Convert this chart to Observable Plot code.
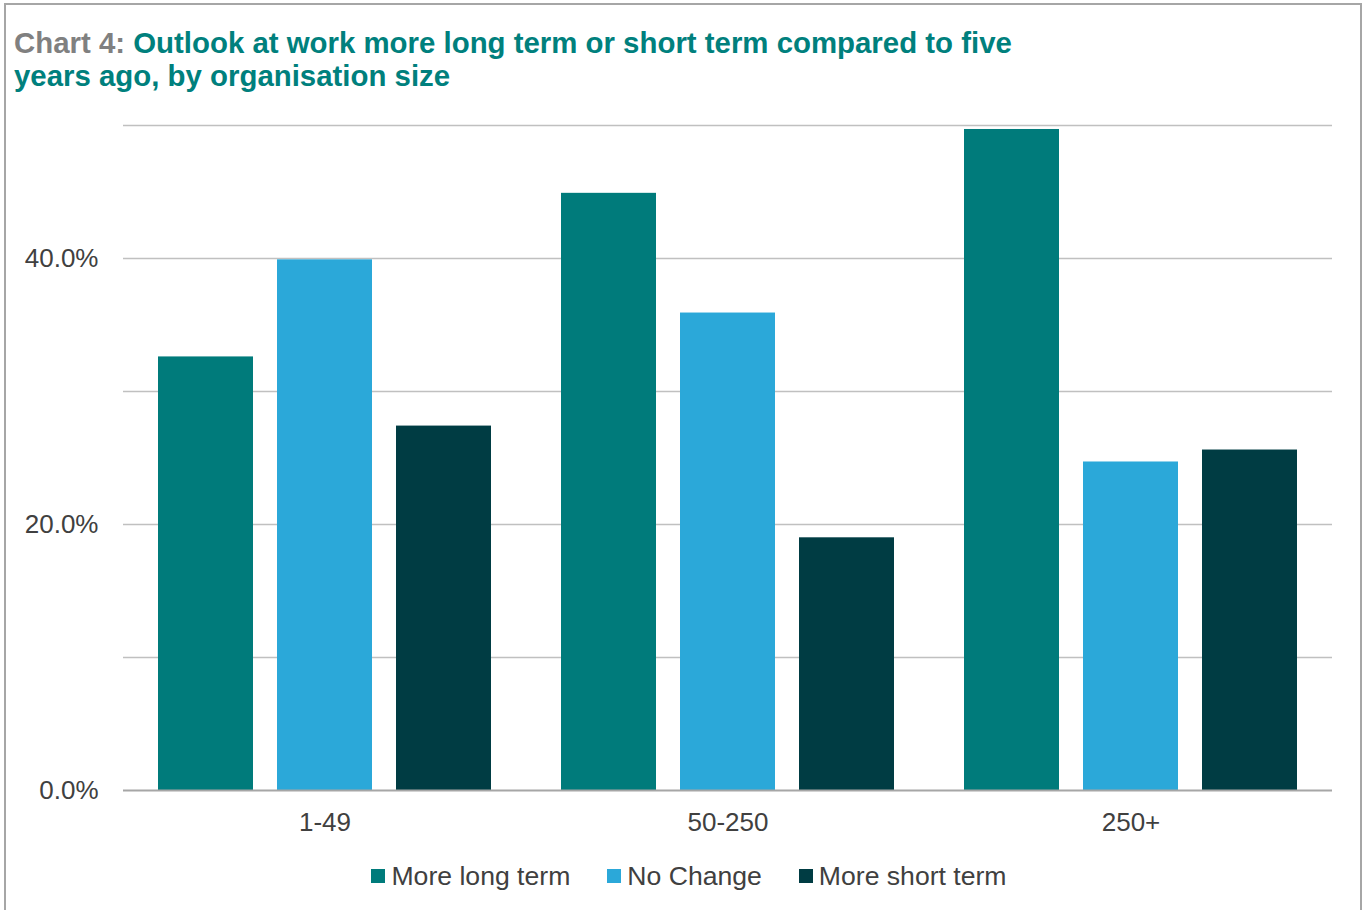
<!DOCTYPE html>
<html>
<head>
<meta charset="utf-8">
<script src="https://cdn.jsdelivr.net/npm/d3@7"></script>
<script src="https://cdn.jsdelivr.net/npm/@observablehq/plot@0.6"></script>
<style>
  html, body { margin: 0; padding: 0; background: #fff; width: 1362px; height: 910px; overflow: hidden; }
  body { position: relative; font-family: "Liberation Sans", Arial, sans-serif; }
  #frame { position: absolute; left: 4px; top: 3px; width: 1354px; height: 1000px; border: 2px solid #a6a6a6; border-bottom: none; }
  #title { position: absolute; left: 14px; top: 26px; font-size: 29.4px; font-weight: bold; line-height: 33px; color: #00807d; width: 1200px; }
  #title .lead { color: #808080; }
  #chart { position: absolute; left: 0; top: 100px; }
  #legend { position: absolute; left: 8px; top: 858px; width: 1362px; display: flex; justify-content: center; align-items: center; font-size: 26.6px; color: #404040; line-height: 36px; }
  .item { display: flex; align-items: center; margin: 0 18.5px; }
  .sw { width: 14px; height: 14px; margin-right: 6px; }
</style>
</head>
<body>
<div id="frame"></div>
<div id="title"><span class="lead">Chart 4:</span> Outlook at work more long term or short term compared to five<br>years ago, by organisation size</div>
<div id="chart"></div>
<div id="legend"></div>
<script>
const groups = ["1-49", "50-250", "250+"];
const seriesNames = ["More long term", "No Change", "More short term"];
const longTerm = [32.6, 44.9, 49.7];
const noChange = [39.9, 35.9, 24.7];
const shortTerm = [27.4, 19.0, 25.6];
const colors = ["#007b7b", "#2ba8d9", "#003c43"];
const yTicks = [0, 20, 40];
const gridValues = [10, 20, 30, 40, 50];

const seriesValues = [longTerm, noChange, shortTerm];
const data = groups.flatMap((g, i) =>
  seriesNames.map((s, j) => ({group: g, series: s, value: seriesValues[j][i]}))
);

const chart = Plot.plot({
  width: 1362,
  height: 750,
  marginLeft: 122,
  marginRight: 29,
  marginTop: 25,
  marginBottom: 60,
  style: {fontFamily: "Liberation Sans, Arial, sans-serif", fontSize: "26px", color: "#404040", background: "transparent", overflow: "visible"},
  fx: {domain: groups, padding: 0, tickSize: 0, tickPadding: 22, label: null},
  x: {domain: seriesNames, paddingInner: 0.2017, paddingOuter: 0.29, axis: null},
  y: {domain: [0, 50], ticks: yTicks, tickFormat: d => d.toFixed(1) + "%", tickSize: 0, tickPadding: 25, label: null},
  color: {domain: seriesNames, range: colors},
  marks: [
    Plot.ruleY(gridValues, {stroke: "#c0c0c0", strokeWidth: 1.5}),
    Plot.barY(data, {fx: "group", x: "series", y: "value", fill: "series"}),
    Plot.ruleY([0], {stroke: "#a6a6a6", strokeWidth: 2})
  ]
});
document.getElementById("chart").appendChild(chart);

const legend = document.getElementById("legend");
seriesNames.forEach((s, i) => {
  const item = document.createElement("div");
  item.className = "item";
  const sw = document.createElement("div");
  sw.className = "sw";
  sw.style.background = colors[i];
  const t = document.createElement("span");
  t.textContent = s;
  item.appendChild(sw);
  item.appendChild(t);
  legend.appendChild(item);
});
</script>
</body>
</html>
